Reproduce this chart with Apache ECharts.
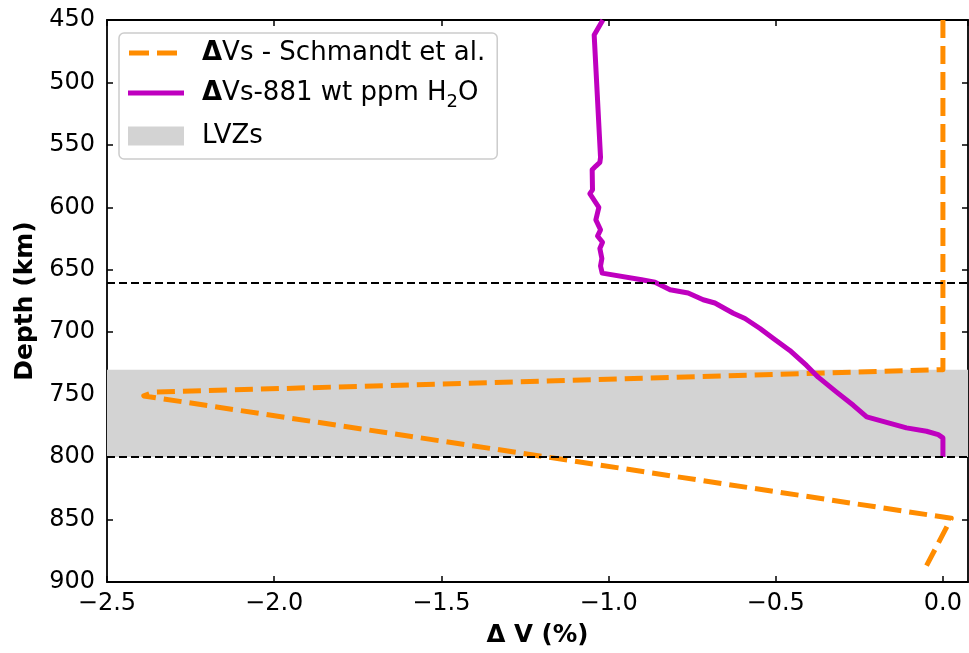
<!DOCTYPE html>
<html>
<head>
<meta charset="utf-8">
<script src="https://cdn.jsdelivr.net/npm/echarts@6/dist/echarts.min.js"></script>
<style>
html,body{margin:0;padding:0;background:#fff;}
#chart{width:969px;height:653px;}
</style>
</head>
<body>
<div id="chart"></div>
<script>
// Schmandt et al. ΔVs profile
const schmandtDV    = [0, 0, -2.36, -2.39, 0.025, -0.055];
const schmandtDepth = [450, 730, 748, 751, 849, 890];

// ΔVs for 881 wt ppm H2O
const waterDepth = [450, 462, 560, 564, 567, 570, 586, 589, 600, 610, 618, 623, 628, 633, 641, 647, 652.7,
                    658, 660, 666, 668.6, 674, 676.6, 684.8, 689, 697, 705, 714.6, 726.6, 736, 748, 758.5,
                    767.8, 776.6, 779.3, 782, 784.6, 800];
const waterDV    = [-1.017, -1.043, -1.024, -1.026, -1.038, -1.049, -1.048, -1.056, -1.029, -1.038, -1.024,
                    -1.033, -1.018, -1.026, -1.020, -1.024, -1.019, -0.901, -0.861, -0.816, -0.762, -0.717,
                    -0.682, -0.627, -0.592, -0.547, -0.507, -0.458, -0.408, -0.373, -0.318, -0.268, -0.228,
                    -0.109, -0.049, -0.014, 0.0, 0.0];

// LVZ band and reference depths
const lvzTop = 730, lvzBottom = 800;
const refDepths = [660, 800];

// axes
const xTicks = [-2.5, -2.0, -1.5, -1.0, -0.5, 0.0];
const xMin = -2.5, xMax = 0.075, xStep = 0.5;
const yTicks = [450, 500, 550, 600, 650, 700, 750, 800, 850, 900];
const yMin = 450, yMax = 900, yStep = 50;

const seriesNames = ['\u0394Vs - Schmandt et al.', '\u0394Vs-881 wt ppm H2O', 'LVZs'];

const FONT = 'DejaVu Sans';
const pair = (xs, ys) => xs.map((x, i) => [x, ys[i]]);
const fmtX = v => (v < 0 ? '\u2212' : '') + Math.abs(v).toFixed(1);

// legend glyphs (56 x 19 box, degenerate corner points fix the box)
const ICON_DASH  = 'path://M0,0L0,0M56,19L56,19M1,7h20v5h-20zM29,7h20v5h-20z';
const ICON_SOLID = 'path://M0,0L0,0M56,19L56,19M0,7h56v5h-56z';

const chart = echarts.init(document.getElementById('chart'), null, {renderer: 'canvas'});

const axisLineStyle = {color: '#000', width: 1.8};
const tickCommon = {show: true, inside: true, length: 6, lineStyle: {color: '#000', width: 1.5}};

chart.setOption({
  animation: false,
  backgroundColor: '#fff',
  textStyle: {fontFamily: FONT},
  grid: {left: 107, right: 1, top: 20, bottom: 69, containLabel: false},
  legend: {
    left: 119, top: 33,
    orient: 'vertical',
    backgroundColor: '#fff',
    borderColor: '#cccccc', borderWidth: 1.5, borderRadius: 5,
    padding: [5, 12, 8, 9],
    itemWidth: 56, itemHeight: 19, itemGap: 10,
    symbolKeepAspect: false,
    data: [
      {name: seriesNames[0], icon: ICON_DASH, itemStyle: {color: '#ff8c00'}},
      {name: seriesNames[1], icon: ICON_SOLID, itemStyle: {color: '#bf00bf'}},
      {name: seriesNames[2], icon: 'rect', itemStyle: {color: '#d3d3d3'}}
    ],
    formatter: function (name) {
      if (name === seriesNames[0]) return '{b|\u0394}{n|Vs - Schmandt et al.}';
      if (name === seriesNames[1]) return '{b|\u0394}{n|Vs-881 wt ppm H}{s|2}{n|O}';
      return '{n|LVZs}';
    },
    textStyle: {
      fontFamily: FONT, fontSize: 26, color: '#000', padding: [0, 0, 0, 13], lineHeight: 30,
      rich: {
        b: {fontFamily: FONT, fontSize: 26, fontWeight: 'bold', color: '#000', lineHeight: 30},
        n: {fontFamily: FONT, fontSize: 26, color: '#000', lineHeight: 30},
        s: {fontFamily: FONT, fontSize: 18, color: '#000', lineHeight: 30, verticalAlign: 'bottom', padding: [0, 0, -3, 0]}
      }
    }
  },
  xAxis: [{
    type: 'value', min: xMin, max: xMax, interval: xStep, position: 'bottom',
    name: '{b|\u0394 V (%)}', nameLocation: 'middle', nameGap: 41,
    nameTextStyle: {rich: {b: {fontFamily: FONT, fontSize: 24.5, fontWeight: 'bold', color: '#000'}}},
    axisLine: {show: true, onZero: false, lineStyle: axisLineStyle},
    axisTick: tickCommon,
    splitLine: {show: false},
    axisLabel: {show: true, margin: 10, fontFamily: FONT, fontSize: 24, color: '#000', formatter: fmtX,
                showMaxLabel: false}
  }, {
    type: 'value', min: xMin, max: xMax, interval: xStep, position: 'top',
    axisLine: {show: true, onZero: false, lineStyle: axisLineStyle},
    axisTick: tickCommon, splitLine: {show: false}, axisLabel: {show: false}
  }],
  yAxis: [{
    type: 'value', inverse: true, min: yMin, max: yMax, interval: yStep, position: 'left',
    name: 'Depth (km)', nameLocation: 'middle', nameGap: 63, nameRotate: 90,
    nameTextStyle: {fontFamily: FONT, fontSize: 25, fontWeight: 'bold', color: '#000'},
    axisLine: {show: true, onZero: false, lineStyle: axisLineStyle},
    axisTick: tickCommon, splitLine: {show: false},
    axisLabel: {show: true, margin: 12, fontFamily: FONT, fontSize: 24, color: '#000'}
  }, {
    type: 'value', inverse: true, min: yMin, max: yMax, interval: yStep, position: 'right',
    axisLine: {show: true, onZero: false, lineStyle: axisLineStyle},
    axisTick: tickCommon, splitLine: {show: false}, axisLabel: {show: false}
  }],
  series: [
    {
      name: seriesNames[2], type: 'line', data: [], z: 1,
      itemStyle: {color: '#d3d3d3'},
      markArea: {
        silent: true,
        itemStyle: {color: '#d3d3d3', opacity: 1},
        data: [[{yAxis: lvzTop}, {yAxis: lvzBottom}]]
      },
      markLine: {
        silent: true, symbol: 'none', label: {show: false},
        lineStyle: {color: '#000', type: [8, 4], width: 1.8, opacity: 1},
        data: refDepths.map(d => ({yAxis: d}))
      }
    },
    {
      name: seriesNames[0], type: 'line', z: 3,
      data: pair(schmandtDV, schmandtDepth),
      symbol: 'none', showSymbol: false, clip: true,
      itemStyle: {color: '#ff8c00'},
      lineStyle: {color: '#ff8c00', width: 5, type: [18, 8], cap: 'butt', join: 'round'}
    },
    {
      name: seriesNames[1], type: 'line', z: 4,
      data: pair(waterDV, waterDepth),
      symbol: 'none', showSymbol: false, clip: true,
      itemStyle: {color: '#bf00bf'},
      lineStyle: {color: '#bf00bf', width: 5, cap: 'butt', join: 'round'}
    }
  ]
});
</script>
</body>
</html>
